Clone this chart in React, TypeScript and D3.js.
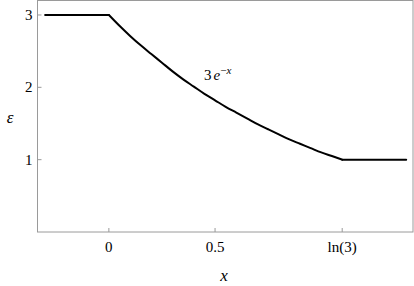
import { useRef, useEffect } from 'react';
import * as d3 from 'd3';

const W = 414;
const H = 286;
const MARGIN = { top: 0.5, right: 1, bottom: 54, left: 37.5 };

// curve: flat at 3, decaying, flat at 1
const xs = [-0.3, 0, 0.05, 0.1, 0.15, 0.2, 0.25, 0.3, 0.35, 0.4, 0.45, 0.5, 0.55, 0.6, 0.65, 0.7, 0.75, 0.8, 0.85, 0.9, 0.95, 1.0, 1.05, 1.0986, 1.4];
const ys = [3, 3, 2.85, 2.71, 2.58, 2.46, 2.34, 2.22, 2.11, 2.01, 1.91, 1.82, 1.73, 1.65, 1.57, 1.49, 1.42, 1.35, 1.28, 1.22, 1.16, 1.1, 1.05, 1, 1];

const xTicks = [0, 0.5, 1.0986];
const xTickLabels = ['0', '0.5', 'ln(3)'];
const yTicks = [1, 2, 3];

export default function App() {
  const svgRef = useRef<SVGSVGElement>(null);

  useEffect(() => {
    if (!svgRef.current) return;
    const svg = d3.select(svgRef.current);
    svg.selectAll('*').remove();

    const x = d3.scaleLinear().domain([-0.336, 1.432]).range([MARGIN.left, W - MARGIN.right]);
    const y = d3.scaleLinear().domain([0, 3.2]).range([H - MARGIN.bottom, MARGIN.top]);

    const serif = "'Liberation Serif', 'Times New Roman', serif";

    // frame
    svg.append('rect')
      .attr('x', MARGIN.left).attr('y', MARGIN.top)
      .attr('width', W - MARGIN.left - MARGIN.right)
      .attr('height', H - MARGIN.top - MARGIN.bottom)
      .attr('fill', 'none').attr('stroke', '#9a9a9a').attr('stroke-width', 1);

    // x ticks (inside)
    const xb = H - MARGIN.bottom;
    xTicks.forEach((t, i) => {
      svg.append('line')
        .attr('x1', x(t)).attr('x2', x(t)).attr('y1', xb).attr('y2', xb - 4)
        .attr('stroke', '#9a9a9a');
      svg.append('text')
        .attr('x', x(t)).attr('y', xb + 20)
        .attr('text-anchor', 'middle')
        .attr('font-family', serif).attr('font-size', 15).attr('fill', '#000')
        .text(xTickLabels[i]);
    });

    // y ticks (inside)
    yTicks.forEach(t => {
      svg.append('line')
        .attr('x1', MARGIN.left).attr('x2', MARGIN.left + 4).attr('y1', y(t)).attr('y2', y(t))
        .attr('stroke', '#9a9a9a');
      svg.append('text')
        .attr('x', MARGIN.left - 5).attr('y', y(t) + 5)
        .attr('text-anchor', 'end')
        .attr('font-family', serif).attr('font-size', 15).attr('fill', '#000')
        .text(String(t));
    });

    // axis labels
    svg.append('text')
      .attr('x', 10).attr('y', 123)
      .attr('text-anchor', 'middle')
      .attr('font-family', serif).attr('font-size', 17).attr('font-style', 'italic')
      .text('ε');
    svg.append('text')
      .attr('x', x(0.5) + 9).attr('y', 281)
      .attr('text-anchor', 'middle')
      .attr('font-family', serif).attr('font-size', 17).attr('font-style', 'italic')
      .text('x');

    // curve: flat parts straight, decay smooth
    const pts = xs.map((v, i) => [v, ys[i]] as [number, number]);
    const i0 = xs.indexOf(0);
    const i1 = xs.indexOf(1.0986);
    const straight = d3.line<[number, number]>().x(d => x(d[0])).y(d => y(d[1]));
    const smooth = d3.line<[number, number]>().x(d => x(d[0])).y(d => y(d[1])).curve(d3.curveMonotoneX);
    [
      straight(pts.slice(0, i0 + 1)),
      smooth(pts.slice(i0, i1 + 1)),
      straight(pts.slice(i1)),
    ].forEach(d => {
      svg.append('path')
        .attr('d', d)
        .attr('fill', 'none').attr('stroke', '#000').attr('stroke-width', 2)
        .attr('stroke-linecap', 'round');
    });

    // annotation 3 e^{-x}
    const ann = svg.append('text')
      .attr('x', 204).attr('y', 80)
      .attr('font-family', serif).attr('font-size', 15);
    ann.append('tspan').text('3');
    ann.append('tspan').attr('dx', 2).attr('font-style', 'italic').text('e');
    ann.append('tspan').attr('dy', -6).attr('font-size', 11).text('−');
    ann.append('tspan').attr('font-size', 11).attr('font-style', 'italic').text('x');
  }, []);

  return (
    <svg ref={svgRef} width={W} height={H}
      style={{ position: 'absolute', left: 0, top: 0, background: '#fff' }} />
  );
}
